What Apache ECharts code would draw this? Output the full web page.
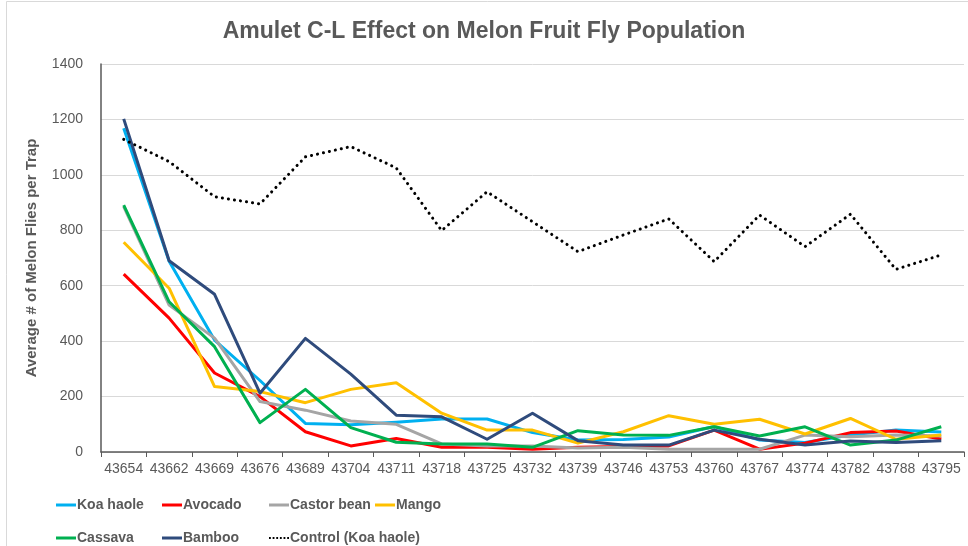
<!DOCTYPE html>
<html lang="en" style="height: 100%">
<head>
  <meta charset="utf-8">
</head>
<body style="height: 100%; margin: 0; background: #fff">
  <div id="container" style="width: 968px; height: 546px"></div>

  <script type="text/javascript" src="https://cdn.jsdelivr.net/npm/echarts@6/dist/echarts.min.js"></script>

  <script type="text/javascript">
    // sample dates (Excel serials, as shown on the axis)
    var dates = ['43654', '43662', '43669', '43676', '43689', '43704', '43711', '43718', '43725', '43732',
                 '43739', '43746', '43753', '43760', '43767', '43774', '43782', '43788', '43795'];

    var koaHaole   = [1168, 688, 404, 258, 103, 98, 107, 119, 119, 70, 43, 45, 54, 92, 43, 34, 61, 79, 72];
    var avocado    = [642, 483, 285, 200, 73, 22, 49, 17, 17, 10, 17, 20, 22, 79, 10, 32, 70, 76, 47];
    var castorBean = [885, 530, 411, 182, 151, 112, 100, 29, 22, 22, 14, 17, 10, 10, 10, 61, 55, 61, 58];
    var mango      = [757, 591, 236, 218, 178, 226, 250, 140, 79, 79, 32, 73, 131, 100, 118, 65, 121, 46, 61];
    var cassava    = [891, 542, 380, 106, 226, 88, 35, 29, 29, 17, 77, 61, 60, 91, 58, 91, 25, 43, 91];
    var bamboo     = [1202, 690, 569, 212, 410, 281, 133, 127, 46, 140, 41, 25, 25, 79, 46, 25, 40, 34, 41];
    var control    = [1128, 1048, 921, 895, 1065, 1102, 1025, 799, 939, 831, 723, 783, 841, 687, 855, 741, 858, 659, 711];

    var yTicks = { min: 0, max: 1400, interval: 200 };

    var dom = document.getElementById('container');
    var myChart = echarts.init(dom, null, { renderer: 'canvas' });

    var txt = '#595959';
    var font = "'Liberation Sans', sans-serif";
    var dotIcon = 'path://M0,0h1v1h-1z M2,0h1v1h-1z M4,0h1v1h-1z M6,0h1v1h-1z M8,0h1v1h-1z M10,0h1v1h-1z';

    function line(name, data, color, extra) {
      var s = {
        name: name,
        type: 'line',
        data: data,
        symbol: 'none',
        lineStyle: { color: color, width: 3, join: 'round' },
        itemStyle: { color: color },
        emphasis: { disabled: true }
      };
      if (extra) Object.assign(s.lineStyle, extra);
      return s;
    }

    // one legend per entry so the two rows line up in fixed columns
    function legendItem(name, left, top, icon) {
      return {
        data: [name],
        left: left,
        top: top,
        icon: icon || 'rect',
        itemWidth: 20,
        itemHeight: 3,
        itemGap: 0,
        padding: 0,
        textStyle: { color: txt, fontSize: 14, fontWeight: 'bold', fontFamily: font, padding: [0, 0, 0, -4] }
      };
    }

    var option = {
      animation: false,
      backgroundColor: '#fff',
      title: {
        text: 'Amulet C-L Effect on Melon Fruit Fly Population',
        left: 'center',
        top: 15,
        textStyle: { color: txt, fontSize: 23, fontWeight: 'bold', fontFamily: font }
      },
      graphic: [{
        type: 'rect',
        shape: { x: 6.5, y: 1.5, width: 1000, height: 600 },
        style: { fill: 'none', stroke: '#d9d9d9', lineWidth: 1 },
        z: -1
      }],
      legend: [
        legendItem('Koa haole', 56, 498),
        legendItem('Avocado', 162, 498),
        legendItem('Castor bean', 269, 498),
        legendItem('Mango', 375, 498),
        legendItem('Cassava', 56, 531),
        legendItem('Bamboo', 162, 531),
        legendItem('Control (Koa haole)', 269, 531, dotIcon)
      ],
      grid: { left: 101, right: 4, top: 64, bottom: 94 },
      xAxis: {
        type: 'category',
        data: dates,
        boundaryGap: true,
        axisLine: { lineStyle: { color: '#595959', width: 1.5 } },
        axisTick: { show: true, length: 5, lineStyle: { color: '#595959' } },
        axisLabel: { color: txt, fontSize: 14, fontFamily: font, margin: 10, interval: 0 }
      },
      yAxis: {
        type: 'value',
        min: yTicks.min,
        max: yTicks.max,
        interval: yTicks.interval,
        name: 'Average # of Melon Flies per Trap',
        nameLocation: 'middle',
        nameGap: 62,
        nameTextStyle: { color: txt, fontSize: 15, fontWeight: 'bold', fontFamily: font },
        axisLine: { show: true, lineStyle: { color: '#595959', width: 1.5 } },
        axisTick: { show: false },
        splitLine: { lineStyle: { color: '#d9d9d9', width: 1 } },
        axisLabel: { color: txt, fontSize: 14, fontFamily: font, margin: 18, formatter: function (v) { return String(v); } }
      },
      series: [
        line('Koa haole', koaHaole, '#00B0F0'),
        line('Avocado', avocado, '#FF0000'),
        line('Castor bean', castorBean, '#A5A5A5'),
        line('Mango', mango, '#FFC000'),
        line('Cassava', cassava, '#00B050'),
        line('Bamboo', bamboo, '#2F4B7C'),
        line('Control (Koa haole)', control, '#000000', { type: [0.1, 6], cap: 'round' })
      ]
    };

    myChart.setOption(option);
    window.addEventListener('resize', myChart.resize);
  </script>
</body>
</html>
